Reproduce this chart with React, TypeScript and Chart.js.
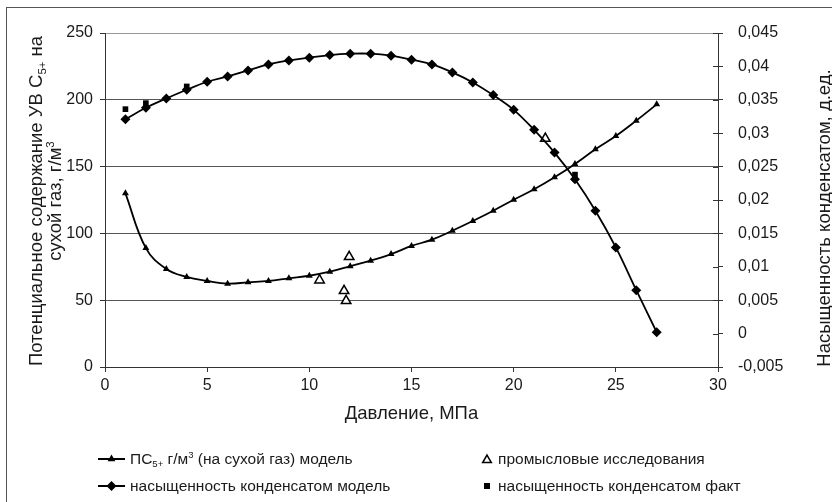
import React, { useEffect, useRef } from "react";
import { Chart, registerables } from "chart.js";

Chart.register(...registerables);

// ---- data ----
const pressure = [1, 2, 3, 4, 5, 6, 7, 8, 9, 10, 11, 12, 13, 14, 15, 16, 17, 18, 19, 20, 21, 22, 23, 24, 25, 26, 27];
const psModel = [130, 89, 73.4, 67.4, 64.4, 62.4, 63.4, 64.4, 66.4, 68.3, 71.3, 75.4, 79.6, 84.5, 90.6, 95.3, 102, 109.3, 117, 125.2, 133, 142, 152, 163, 172.9, 184.4, 196.6];
const satModel = [0.0321, 0.0338, 0.0352, 0.0365, 0.0377, 0.0385, 0.0394, 0.0403, 0.0409, 0.0413, 0.0417, 0.0419, 0.0419, 0.0416, 0.041, 0.0403, 0.0391, 0.0376, 0.0357, 0.0335, 0.0305, 0.0271, 0.0231, 0.0184, 0.0129, 0.0065, 0.0002];
const fieldPressure = [10.5, 11.7, 11.8, 11.95, 21.55];
const fieldPs = [65, 57, 49.5, 82.5, 171];
const factPressure = [1, 2, 4, 23];
const factSat = [0.0336, 0.0345, 0.037, 0.0238];

const xTitle = "Давление, МПа";
const yTitleLine1 = ["Потенциальное содержание УВ С", "5+", " на"];
const yTitleLine2 = ["сухой газ, г/м", "3"];
const y1Title = "Насыщенность конденсатом, д.ед.";
const legendPs = ["ПС", "5+", " г/м", "3", " (на сухой газ) модель"];
const legendField = "промысловые исследования";
const legendSat = "насыщенность конденсатом модель";
const legendFact = "насыщенность конденсатом факт";

const FONT = '"Liberation Sans", Arial, sans-serif';
const TEXT = "#1a1a1a";
const TITLE_SIZE = 18.5;
const LEGEND_SIZE = 15.5;

type Seg = { t: string; k?: "sub" | "sup" };

function setFont(ctx: CanvasRenderingContext2D, size: number) {
  ctx.font = `${size}px ${FONT}`;
}
function segSize(s: Seg, size: number) {
  return s.k ? size * 0.62 : size;
}
function richWidth(ctx: CanvasRenderingContext2D, segs: Seg[], size: number) {
  let w = 0;
  for (const s of segs) {
    setFont(ctx, segSize(s, size));
    w += ctx.measureText(s.t).width;
  }
  return w;
}
function drawRich(ctx: CanvasRenderingContext2D, segs: Seg[], x: number, y: number, size: number, align: "left" | "center") {
  const total = richWidth(ctx, segs, size);
  let cx = align === "center" ? x - total / 2 : x;
  ctx.textAlign = "left";
  ctx.textBaseline = "alphabetic";
  for (const s of segs) {
    const fs = segSize(s, size);
    setFont(ctx, fs);
    const dy = s.k === "sub" ? size * 0.22 : s.k === "sup" ? -size * 0.38 : 0;
    ctx.fillText(s.t, cx, y + dy);
    cx += ctx.measureText(s.t).width;
  }
}

function tri(ctx: CanvasRenderingContext2D, x: number, y: number, r: number, fill: string, stroke: string, lw: number) {
  ctx.beginPath();
  for (let i = 0; i < 3; i++) {
    const a = (i * 2 * Math.PI) / 3;
    const px = x + Math.sin(a) * r;
    const py = y - Math.cos(a) * r;
    if (i === 0) ctx.moveTo(px, py);
    else ctx.lineTo(px, py);
  }
  ctx.closePath();
  ctx.fillStyle = fill;
  ctx.fill();
  if (lw > 0) {
    ctx.lineWidth = lw;
    ctx.strokeStyle = stroke;
    ctx.stroke();
  }
}
function diamond(ctx: CanvasRenderingContext2D, x: number, y: number, r: number) {
  ctx.beginPath();
  ctx.moveTo(x, y - r);
  ctx.lineTo(x + r, y);
  ctx.lineTo(x, y + r);
  ctx.lineTo(x - r, y);
  ctx.closePath();
  ctx.fillStyle = "#000";
  ctx.fill();
}

const overlayPlugin = {
  id: "overlay",
  afterDraw(chart: any) {
    const ctx: CanvasRenderingContext2D = chart.ctx;
    const area = chart.chartArea;
    ctx.save();
    // outer border
    ctx.strokeStyle = "#555";
    ctx.lineWidth = 1;
    ctx.strokeRect(6.5, 7.5, 840, 520);

    // inward ticks on the right axis
    const y1 = chart.scales.y1;
    ctx.strokeStyle = "#333";
    ctx.beginPath();
    for (const t of y1.ticks) {
      const py = Math.round(y1.getPixelForValue(t.value)) + 0.5;
      ctx.moveTo(area.right - 5, py);
      ctx.lineTo(area.right, py);
    }
    ctx.stroke();

    ctx.fillStyle = TEXT;
    // x title
    drawRich(ctx, [{ t: xTitle }], (area.left + area.right) / 2, 419, TITLE_SIZE, "center");

    // left title (rotated)
    ctx.save();
    ctx.translate(42, 201);
    ctx.rotate(-Math.PI / 2);
    drawRich(ctx, [{ t: yTitleLine1[0] }, { t: yTitleLine1[1], k: "sub" }, { t: yTitleLine1[2] }], 0, 0, TITLE_SIZE, "center");
    ctx.restore();
    ctx.save();
    ctx.translate(61, 201);
    ctx.rotate(-Math.PI / 2);
    drawRich(ctx, [{ t: yTitleLine2[0] }, { t: yTitleLine2[1], k: "sup" }], 0, 0, TITLE_SIZE, "center");
    ctx.restore();

    // right title
    ctx.save();
    ctx.translate(830, 218);
    ctx.rotate(-Math.PI / 2);
    drawRich(ctx, [{ t: y1Title }], 0, 0, TITLE_SIZE, "center");
    ctx.restore();

    // legend
    const r1 = 459;
    const r2 = 486;
    ctx.strokeStyle = "#000";
    ctx.lineWidth = 2;
    ctx.beginPath();
    ctx.moveTo(98, r1);
    ctx.lineTo(125, r1);
    ctx.moveTo(98, r2);
    ctx.lineTo(125, r2);
    ctx.stroke();
    tri(ctx, 111.5, r1, 4.5, "#000", "#000", 0);
    diamond(ctx, 111.5, r2, 5);
    ctx.fillStyle = TEXT;
    drawRich(ctx, [{ t: legendPs[0] }, { t: legendPs[1], k: "sub" }, { t: legendPs[2] }, { t: legendPs[3], k: "sup" }, { t: legendPs[4] }], 130, r1 + 5, LEGEND_SIZE, "left");
    ctx.fillStyle = TEXT;
    drawRich(ctx, [{ t: legendSat }], 130, r2 + 5, LEGEND_SIZE, "left");

    tri(ctx, 487, r1 + 1, 5, "#fff", "#000", 1.5);
    ctx.fillStyle = "#000";
    ctx.fillRect(484, r2 - 3, 6, 6);
    ctx.fillStyle = TEXT;
    drawRich(ctx, [{ t: legendField }], 498, r1 + 5, LEGEND_SIZE, "left");
    drawRich(ctx, [{ t: legendFact }], 498, r2 + 5, LEGEND_SIZE, "left");
    ctx.restore();
  },
};

function fmt(v: number) {
  const n = Number(Number(v).toFixed(3));
  return String(n).replace(".", ",");
}

export default function App() {
  const ref = useRef<HTMLCanvasElement>(null);
  useEffect(() => {
    document.body.style.margin = "0";
    const canvas = ref.current;
    if (!canvas) return;
    Chart.defaults.font.family = FONT;
    const tickFont = { size: 16, family: FONT };
    const chart = new Chart(canvas, {
      type: "scatter",
      data: {
        datasets: [
          {
            label: "ПС5+ модель",
            data: pressure.map((p, i) => ({ x: p, y: psModel[i] })),
            yAxisID: "y",
            showLine: true,
            tension: 0.4,
            borderColor: "#000",
            backgroundColor: "#000",
            borderWidth: 1.8,
            pointStyle: "triangle",
            pointRadius: 4,
            pointBorderWidth: 0,
          },
          {
            label: "насыщенность конденсатом модель",
            data: pressure.map((p, i) => ({ x: p, y: satModel[i] })),
            yAxisID: "y1",
            showLine: true,
            tension: 0.4,
            borderColor: "#000",
            backgroundColor: "#000",
            borderWidth: 1.8,
            pointStyle: "rectRot",
            pointRadius: 5,
            pointBorderWidth: 0,
          },
          {
            label: "промысловые исследования",
            data: fieldPressure.map((p, i) => ({ x: p, y: fieldPs[i] })),
            yAxisID: "y",
            showLine: false,
            borderColor: "#000",
            backgroundColor: "#fff",
            pointStyle: "triangle",
            pointRadius: 5.5,
            pointBorderWidth: 1.5,
          },
          {
            label: "насыщенность конденсатом факт",
            data: factPressure.map((p, i) => ({ x: p, y: factSat[i] })),
            yAxisID: "y1",
            showLine: false,
            borderColor: "#000",
            backgroundColor: "#000",
            pointStyle: "rect",
            pointRadius: 4,
            pointBorderWidth: 0,
          },
        ],
      },
      options: {
        animation: false,
        responsive: false,
        maintainAspectRatio: false,
        layout: { padding: { top: 33, left: 0, right: 0, bottom: 0 } },
        plugins: { legend: { display: false }, tooltip: { enabled: false } },
        scales: {
          x: {
            type: "linear",
            min: 0,
            max: 30,
            ticks: { stepSize: 5, font: tickFont, color: TEXT, padding: 4, maxRotation: 0 },
            grid: { drawOnChartArea: false, tickLength: 5, color: "#333" },
            border: { color: "#333" },
            afterFit(s: any) {
              s.height = 135;
            },
          },
          y: {
            position: "left",
            min: 0,
            max: 250,
            ticks: { stepSize: 50, font: tickFont, color: TEXT, padding: 7 },
            grid: {
              tickLength: 5,
              color: (c: any) => (c.tick && c.tick.value === 250 ? "#999" : c.tick && c.tick.value === 0 ? "#333" : "#555"),
              tickColor: "#333",
            },
            border: { color: "#333" },
            afterFit(s: any) {
              s.width = 105;
            },
          },
          y1: {
            position: "right",
            min: -0.005,
            max: 0.045,
            ticks: { stepSize: 0.005, font: tickFont, color: TEXT, padding: 15, callback: (v: any) => fmt(v) },
            grid: { drawOnChartArea: false, tickLength: 5, color: "#333" },
            border: { color: "#333" },
            afterFit(s: any) {
              s.width = 114;
            },
          },
        },
      },
      plugins: [overlayPlugin],
    } as any);
    return () => chart.destroy();
  }, []);
  return (
    <div style={{ width: 832, height: 502, background: "#fff" }}>
      <canvas ref={ref} width={832} height={502} style={{ display: "block", width: 832, height: 502 }} />
    </div>
  );
}
